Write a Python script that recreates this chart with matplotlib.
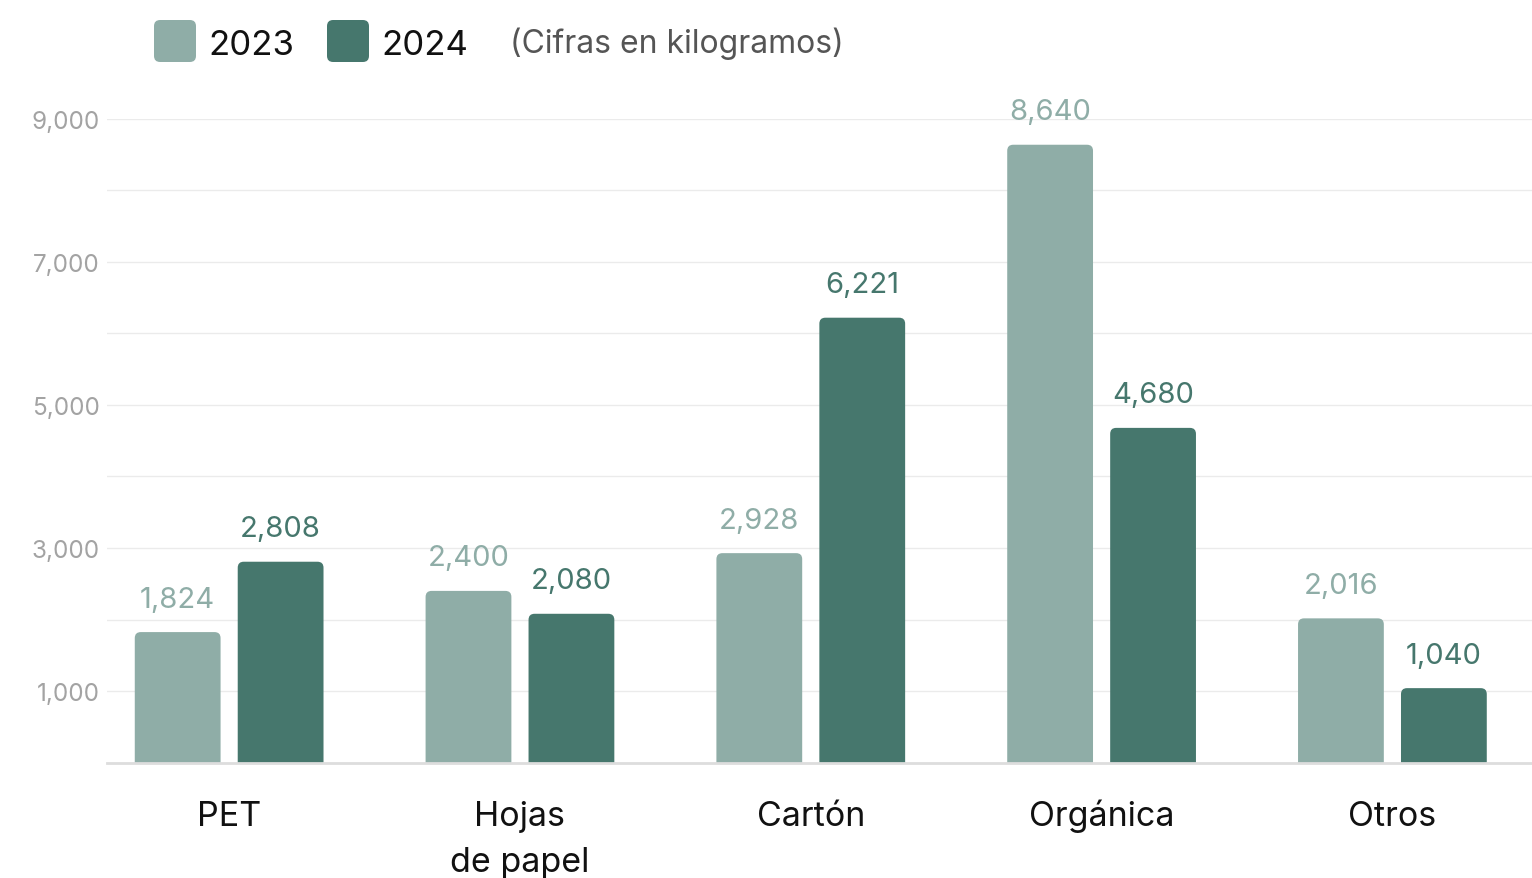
import numpy as np
import matplotlib.pyplot as plt
from matplotlib.patches import FancyBboxPatch

plt.rcParams['font.family'] = ['Inter', 'DejaVu Sans']

# data
categorias = ['PET', 'Hojas\nde papel', 'Cartón', 'Orgánica', 'Otros']
v2023 = [1824, 2400, 2928, 8640, 2016]
v2024 = [2808, 2080, 6221, 4680, 1040]
etiquetas_y = ['1,000', '3,000', '5,000', '7,000', '9,000']

c23 = '#8fada7'
c24 = '#46776d'

W, H = 1532, 879
fig = plt.figure(figsize=(W/100, H/100), dpi=100)
ax = fig.add_axes([107/W, 1-763.5/H, (W-107)/W, (763.5-120)/H])

ax.set_xlim(-0.42, 4.48)
ax.set_ylim(0, 9000)

x = np.arange(len(categorias))
bw = 0.295
off = 0.177

# px -> data units
px_x = 4.9/(W-107)
px_y = 9000/(763.5-120)
r = 6*px_x

def barras(xs, vals, col):
    for xi, v in zip(xs, vals):
        p = FancyBboxPatch((xi-bw/2, -200), bw, v+200,
                           boxstyle='round,pad=0,rounding_size=%f' % r,
                           mutation_aspect=px_y/px_x,
                           fc=col, ec='none', zorder=3)
        ax.add_patch(p)
        ax.annotate(f'{v:,}', (xi, v), xytext=(0, 14), textcoords='offset points',
                    ha='center', va='bottom', fontsize=21, color=col,
                    annotation_clip=False)

barras(x-off, v2023, c23)
barras(x+off, v2024, c24)

# grid
ax.set_yticks([1000, 3000, 5000, 7000, 9000])
ax.set_yticklabels(etiquetas_y)
ax.set_yticks([2000, 4000, 6000, 8000], minor=True)
ax.grid(axis='y', which='both', color='#ebebeb', lw=1, zorder=0)
ax.tick_params(axis='y', which='both', length=0, pad=5, labelsize=17.5, labelcolor='#a3a3a3')
ax.set_xticks([])
# category labels, line by line so baselines line up
for xi, c in zip(x, categorias):
    for i, linea in enumerate(c.split('\n')):
        ax.annotate(linea, (xi, 0), xytext=(0, -45 - 33*i), textcoords='offset points',
                    ha='center', va='baseline', fontsize=24.5, color='#111111',
                    annotation_clip=False)

for s in ['top', 'right', 'left']:
    ax.spines[s].set_visible(False)
ax.spines['bottom'].set_color('#dddddd')
ax.spines['bottom'].set_linewidth(2)
ax.spines['bottom'].set_zorder(4)

# legend
def caja(x0, col):
    fig.patches.append(FancyBboxPatch((x0/W, 1-63/H), 42/W, 42/H,
                       boxstyle='round,pad=0,rounding_size=0.004',
                       mutation_aspect=W/H, fc=col, ec='none',
                       transform=fig.transFigure, figure=fig))

caja(154, c23)
caja(327, c24)
fig.text(208/W, 1-46/H, '2023', fontsize=25, color='#111111', va='center', ha='left')
fig.text(381/W, 1-46/H, '2024', fontsize=25, color='#111111', va='center', ha='left')
fig.text(510/W, 1-44/H, '(Cifras en kilogramos)', fontsize=23, color='#555555',
         va='center', ha='left')

fig.savefig('out.png', dpi=100)
